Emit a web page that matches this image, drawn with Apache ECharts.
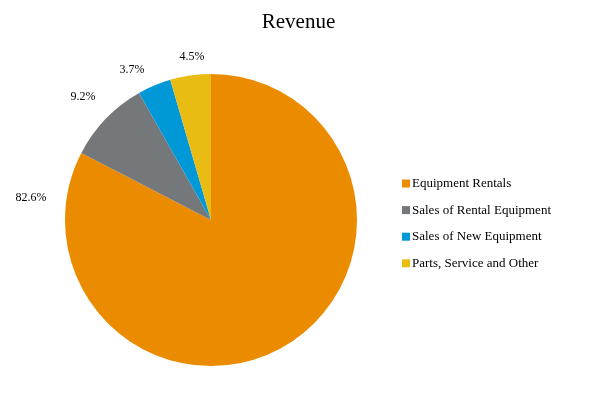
<!DOCTYPE html>
<html>
<head>
<meta charset="utf-8">
<script src="https://cdn.jsdelivr.net/npm/echarts@6/dist/echarts.min.js"></script>
<style>html,body{margin:0;padding:0;background:#fff;}#c{width:597px;height:399px;}</style>
</head>
<body>
<div id="c"></div>
<script>
const categories = ['Equipment Rentals', 'Sales of Rental Equipment', 'Sales of New Equipment', 'Parts, Service and Other'];
const values = [82.6, 9.2, 3.7, 4.5];
const colors = ['#EB8C00', '#75787B', '#0098D6', '#E8BC13'];
// label anchor points (layout only)
const labelPos = [[31, 198], [83, 97], [132, 70], [192, 57]];

const chart = echarts.init(document.getElementById('c'));
chart.setOption({
  animation: false,
  title: {
    text: 'Revenue', left: 'center', top: 7,
    textStyle: { fontFamily: 'Liberation Serif', fontSize: 21, fontWeight: 'normal', color: '#000' }
  },
  legend: {
    orient: 'vertical', left: 397, top: 172,
    itemWidth: 8, itemHeight: 8, itemGap: 13.6,
    icon: 'rect',
    data: categories,
    textStyle: { fontFamily: 'Liberation Serif', fontSize: 13, color: '#000', padding: [0, 0, 0, -3] }
  },
  series: [{
    type: 'pie',
    center: [211, 220],
    radius: 146,
    startAngle: 90,
    clockwise: true,
    data: categories.map((n, i) => ({ name: n, value: values[i], itemStyle: { color: colors[i] } })),
    itemStyle: { borderWidth: 0 },
    label: {
      show: true, position: 'outside',
      formatter: p => p.value.toFixed(1) + '%',
      fontFamily: 'Liberation Serif', fontSize: 12, color: '#000'
    },
    labelLine: { show: false },
    labelLayout: function (params) {
      const p = labelPos[params.dataIndex];
      return { x: p[0], y: p[1], align: 'center', verticalAlign: 'middle' };
    }
  }]
});
</script>
</body>
</html>
